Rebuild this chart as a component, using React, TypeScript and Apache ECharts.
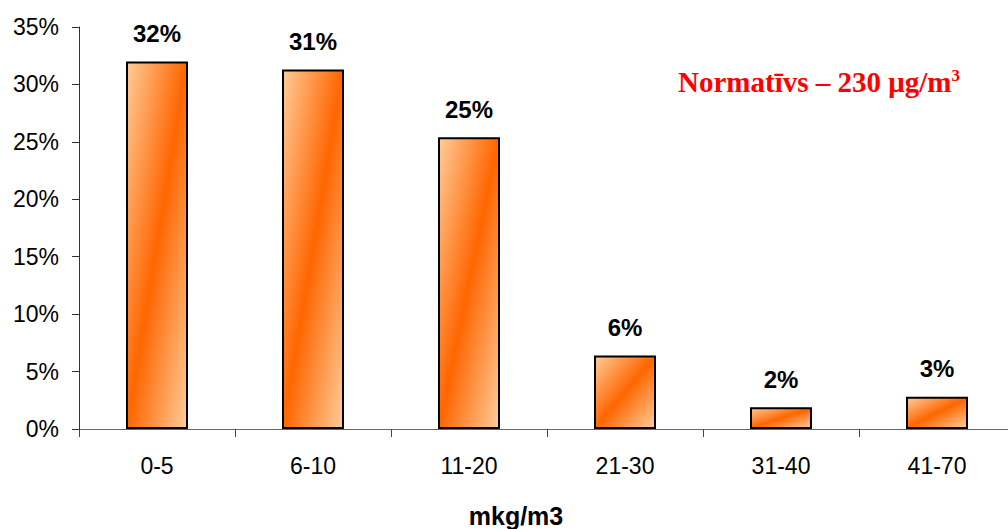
import React, { useEffect, useRef } from "react";
import * as echarts from "echarts";

const categories = ["0-5", "6-10", "11-20", "21-30", "31-40", "41-70"];
const shares = [32.0, 31.3, 25.4, 6.4, 1.9, 2.8];
const yTicks = { min: 0, max: 35, interval: 5 };
const xAxisTitle = "mkg/m3";
const noteText = "Normatīvs – 230 μg/m";
const noteSup = "3";

const SANS = "'Liberation Sans', Arial, sans-serif";
const SERIF = "'Liberation Serif', 'Times New Roman', serif";

export default function App() {
  const ref = useRef<HTMLDivElement>(null);
  useEffect(() => {
    if (!ref.current) return;
    const chart = echarts.init(ref.current, null, { renderer: "svg" });
    const fill = new echarts.graphic.LinearGradient(0, 0, 1, 1, [
      { offset: 0, color: "#FFCC99" },
      { offset: 0.5, color: "#FF6600" },
      { offset: 1, color: "#FFCC99" },
    ]);
    chart.setOption({
      animation: false,
      backgroundColor: "#ffffff",
      grid: { left: 79, top: 27, width: 936, height: 402, containLabel: false, outerBoundsMode: "none" },
      xAxis: {
        type: "category",
        data: categories,
        axisLine: { lineStyle: { color: "#666", width: 1 } },
        axisTick: { show: true, alignWithLabel: false, length: 8, lineStyle: { color: "#444" } },
        axisLabel: { fontFamily: SANS, fontSize: 23, color: "#000", margin: 25 },
        splitLine: { show: false },
      },
      yAxis: {
        type: "value",
        min: yTicks.min,
        max: yTicks.max,
        interval: yTicks.interval,
        axisLine: { show: true, lineStyle: { color: "#333", width: 1 } },
        axisTick: { show: true, length: 7, lineStyle: { color: "#333" } },
        axisLabel: { fontFamily: SANS, fontSize: 23, color: "#000", margin: 20, formatter: "{value}%" },
        splitLine: { show: false },
      },
      series: [
        {
          type: "bar",
          data: shares,
          barWidth: 62,
          itemStyle: { color: fill, borderColor: "#000", borderWidth: 2 },
          label: {
            show: true,
            position: "top",
            distance: 16,
            fontFamily: SANS,
            fontSize: 24,
            fontWeight: "bold",
            color: "#000",
            formatter: (p: any) => Math.round(p.value) + "%",
          },
        },
      ],
      graphic: [
        {
          type: "text",
          x: 516,
          y: 516,
          style: {
            text: xAxisTitle,
            fontFamily: SANS,
            fontSize: 25,
            fontWeight: "bold",
            fill: "#000",
            align: "center",
            verticalAlign: "middle",
          },
        },
        {
          type: "text",
          x: 678,
          y: 67,
          style: {
            text: "{a|" + noteText + "}{s|" + noteSup + "}",
            rich: {
              a: { fontFamily: SERIF, fontSize: 29, fontWeight: "bold", fill: "#FF0000", color: "#FF0000", lineHeight: 29 },
              s: { fontFamily: SERIF, fontSize: 17, fontWeight: "bold", fill: "#FF0000", color: "#FF0000", verticalAlign: "top", lineHeight: 17 },
            },
          },
        },
      ],
    });
    return () => chart.dispose();
  }, []);
  return (
    <div
      ref={ref}
      style={{ position: "fixed", left: 0, top: 0, width: 1008, height: 529, background: "#fff" }}
    />
  );
}
